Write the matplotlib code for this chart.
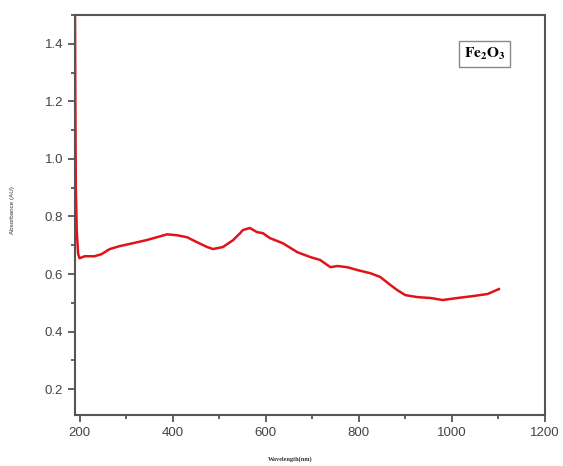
import matplotlib
matplotlib.use("Agg")
import matplotlib.pyplot as plt
from matplotlib.ticker import MultipleLocator

# Fe2O3 absorbance spectrum
wavelength = [190, 191, 192, 194, 197, 200, 211, 232, 247, 265, 286, 314, 344,
              366, 388, 409, 431, 452, 474, 487, 508, 530, 545, 551, 566, 581,
              594, 609, 637, 668, 696, 717, 739, 754, 775, 797, 825, 846, 868,
              883, 900, 926, 954, 980, 1012, 1047, 1077, 1101]
absorbance = [1.60, 1.20, 0.90, 0.75, 0.67, 0.655, 0.662, 0.662, 0.669, 0.687,
              0.697, 0.707, 0.718, 0.728, 0.738, 0.735, 0.728, 0.711, 0.694,
              0.687, 0.694, 0.718, 0.742, 0.753, 0.760, 0.746, 0.742, 0.725,
              0.707, 0.676, 0.659, 0.649, 0.624, 0.628, 0.624, 0.614, 0.603,
              0.590, 0.562, 0.544, 0.527, 0.520, 0.517, 0.510, 0.517, 0.524,
              0.531, 0.548]

plt.rcParams['font.family'] = ['Liberation Sans', 'DejaVu Sans']
plt.rcParams['mathtext.fontset'] = 'stix'

fig = plt.figure(figsize=(5.63, 4.66), dpi=100)
ax = fig.add_axes([0.133, 0.109, 0.835, 0.859])

ax.plot(wavelength, absorbance, color="#e01418", lw=1.8)

ax.set_xlim(190, 1200)
ax.set_ylim(0.11, 1.5)
ax.xaxis.set_major_locator(MultipleLocator(200))
ax.xaxis.set_minor_locator(MultipleLocator(100))
ax.yaxis.set_major_locator(MultipleLocator(0.2))
ax.yaxis.set_minor_locator(MultipleLocator(0.1))

for sp in ax.spines.values():
    sp.set_color("#555555")
    sp.set_linewidth(1.5)
ax.tick_params(which="both", direction="out", colors="#555555", width=1.3)
ax.tick_params(which="major", length=5, labelsize=9.5, labelcolor="#444444")
ax.tick_params(which="minor", length=3)

fig.text(0.515, 0.008, "Wavelength(nm)", fontsize=4.5, fontweight="bold",
         family="Liberation Serif", color="#333333", ha="center", va="bottom")
fig.text(0.022, 0.55, "Absorbance (AU)", fontsize=4.5, rotation=90,
         color="#333333", ha="center", va="center")

ax.text(0.872, 0.9025, r"$\mathbf{Fe_2O_3}$", transform=ax.transAxes,
        fontsize=11, ha="center", va="center",
        bbox=dict(boxstyle="square,pad=0.3", fc="white", ec="#888888", lw=1))

fig.savefig("out.png", dpi=100)
